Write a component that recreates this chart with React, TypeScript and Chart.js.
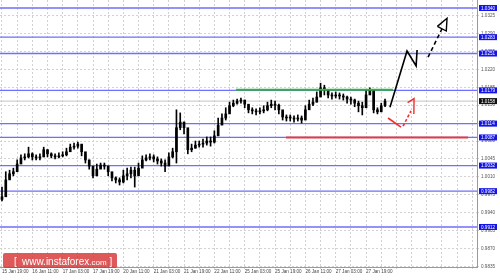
import React, { useEffect, useRef } from "react";
import { Chart, registerables } from "chart.js";
Chart.register(...registerables);

// Candle time positions (hours from the first label)
const HOURS = [0, 2, 4, 6, 8, 10, 12, 14, 16, 18, 20, 22, 24, 26, 28, 30, 32, 34, 36, 38, 40, 42, 44, 46, 48, 50, 52, 54, 56, 58, 60, 62, 64, 66, 68, 70, 72, 74, 76, 78, 80, 82, 84, 86, 88, 90, 92, 94, 96, 98, 100, 102, 104, 106, 108, 110, 112, 114, 116, 118, 120, 122, 124, 126, 128, 130, 132, 134, 136, 138, 140, 142, 144, 146, 148, 150, 152, 154, 156, 158, 160, 162, 164, 166, 168, 170, 172, 174, 176, 178, 180, 182, 184, 186, 188, 190, 192, 194, 196, 198, 200, 202];

const CLOSE = [0.9971, 1.0004, 1.0016, 1.0020, 1.0035, 1.0047, 1.0049, 1.0055, 1.0049, 1.0047, 1.0049, 1.0063, 1.0055, 1.0051, 1.0049, 1.0051, 1.0053, 1.0059, 1.0068, 1.0070, 1.0074, 1.0059, 1.0043, 1.0031, 1.0012, 1.0025, 1.0033, 1.0031, 1.0020, 1.0008, 1.0004, 1.0000, 1.0012, 1.0016, 1.0023, 1.0012, 1.0027, 1.0043, 1.0047, 1.0049, 1.0045, 1.0041, 1.0037, 1.0031, 1.0049, 1.0059, 1.0106, 1.0117, 1.0106, 1.0063, 1.0066, 1.0072, 1.0074, 1.0076, 1.0080, 1.0078, 1.0090, 1.0111, 1.0125, 1.0133, 1.0149, 1.0154, 1.0158, 1.0160, 1.0152, 1.0141, 1.0139, 1.0137, 1.0139, 1.0141, 1.0149, 1.0152, 1.0150, 1.0141, 1.0127, 1.0125, 1.0125, 1.0123, 1.0125, 1.0121, 1.0141, 1.0152, 1.0156, 1.0166, 1.0184, 1.0180, 1.0170, 1.0168, 1.0170, 1.0168, 1.0166, 1.0162, 1.0160, 1.0154, 1.0149, 1.0145, 1.0170, 1.0180, 1.0141, 1.0137, 1.0149, 1.0158];

const HIGH = [0.9990, 1.0020, 1.0023, 1.0027, 1.0043, 1.0053, 1.0055, 1.0068, 1.0057, 1.0053, 1.0055, 1.0068, 1.0063, 1.0057, 1.0055, 1.0057, 1.0059, 1.0066, 1.0074, 1.0076, 1.0078, 1.0072, 1.0053, 1.0043, 1.0023, 1.0035, 1.0037, 1.0037, 1.0031, 1.0016, 1.0010, 1.0008, 1.0023, 1.0027, 1.0029, 1.0029, 1.0037, 1.0051, 1.0053, 1.0055, 1.0053, 1.0049, 1.0045, 1.0043, 1.0057, 1.0066, 1.0141, 1.0135, 1.0117, 1.0082, 1.0074, 1.0080, 1.0080, 1.0084, 1.0088, 1.0088, 1.0100, 1.0125, 1.0133, 1.0145, 1.0156, 1.0160, 1.0162, 1.0164, 1.0160, 1.0149, 1.0145, 1.0143, 1.0145, 1.0149, 1.0156, 1.0160, 1.0158, 1.0152, 1.0137, 1.0131, 1.0131, 1.0129, 1.0131, 1.0129, 1.0149, 1.0160, 1.0164, 1.0176, 1.0193, 1.0189, 1.0178, 1.0174, 1.0176, 1.0174, 1.0172, 1.0168, 1.0166, 1.0162, 1.0158, 1.0156, 1.0180, 1.0184, 1.0176, 1.0145, 1.0154, 1.0162];

const LOW = [0.9963, 0.9984, 1.0008, 1.0012, 1.0027, 1.0041, 1.0043, 1.0047, 1.0043, 1.0043, 1.0043, 1.0049, 1.0049, 1.0047, 1.0045, 1.0047, 1.0049, 1.0051, 1.0063, 1.0064, 1.0066, 1.0051, 1.0037, 1.0025, 1.0008, 1.0012, 1.0027, 1.0025, 1.0012, 1.0002, 0.9998, 0.9994, 0.9998, 1.0004, 1.0008, 0.9990, 1.0016, 1.0035, 1.0041, 1.0043, 1.0039, 1.0035, 1.0031, 1.0020, 1.0039, 1.0047, 1.0037, 1.0102, 1.0094, 1.0055, 1.0059, 1.0066, 1.0068, 1.0068, 1.0072, 1.0070, 1.0076, 1.0094, 1.0115, 1.0121, 1.0139, 1.0147, 1.0152, 1.0154, 1.0145, 1.0135, 1.0133, 1.0131, 1.0133, 1.0135, 1.0139, 1.0145, 1.0141, 1.0133, 1.0121, 1.0119, 1.0119, 1.0117, 1.0119, 1.0115, 1.0131, 1.0145, 1.0149, 1.0156, 1.0172, 1.0170, 1.0164, 1.0162, 1.0164, 1.0162, 1.0160, 1.0154, 1.0152, 1.0147, 1.0137, 1.0131, 1.0156, 1.0172, 1.0135, 1.0133, 1.0141, 1.0147];

const FIRST_OPEN = 0.9966;

// Horizontal levels
const LEVELS = [1.0340, 1.0283, 1.0251, 1.0179, 1.0114, 1.0087, 1.0032, 0.9982, 0.9912];
const CURRENT_PRICE = 1.0158;

// Axis ticks
const Y_TICKS = [0.9835, 0.9870, 0.9905, 0.9940, 0.9975, 1.0010, 1.0045, 1.0080, 1.0115, 1.0150, 1.0185, 1.0220, 1.0255, 1.0290, 1.0325];
const X_GRID_HOURS = [0, 8, 16, 24, 32, 40, 48, 56, 64, 72, 80, 88, 96, 104, 112, 120, 128, 136, 144, 152, 160, 168, 176, 184, 192, 200, 208, 216, 224, 232, 240, 248];
const X_LABEL_HOURS = [0, 16, 32, 48, 64, 80, 96, 112, 128, 144, 160, 176, 192];
const X_LABELS = ["15 Jan 19:00", "16 Jan 11:00", "17 Jan 03:00", "17 Jan 19:00", "20 Jan 11:00", "21 Jan 03:00", "21 Jan 19:00", "22 Jan 11:00", "25 Jan 03:00", "25 Jan 19:00", "26 Jan 11:00", "27 Jan 03:00", "27 Jan 19:00"];

const X_MIN = -1.05;
const X_MAX = 250.5;
const Y_MIN = 0.98338;
const Y_MAX = 1.03556;

// Analyst annotations (hours, prices)
const GREEN_HOURS = [123.4, 206.2];
const GREEN_PRICES = [1.0180, 1.0180];
const RED_LEVEL_HOURS = [149.8, 245.8];
const RED_LEVEL_PRICES = [1.0087, 1.0087];
const BLACK_PATH_HOURS = [204.6, 213.6, 218.4, 218.9];
const BLACK_PATH_PRICES = [1.0146, 1.0256, 1.0227, 1.0258];
const BLACK_DASH_HOURS = [224.7, 232.0];
const BLACK_DASH_PRICES = [1.0244, 1.0299];
const BLACK_HEAD_HOURS = [229.6, 234.7, 234.3, 229.6];
const BLACK_HEAD_PRICES = [1.0304, 1.0320, 1.0295, 1.0304];
const RED_PATH_HOURS = [203.6, 210.4];
const RED_PATH_PRICES = [1.0125, 1.0107];
const RED_DASH_HOURS = [211.5, 215.7];
const RED_DASH_PRICES = [1.0109, 1.0139];
const RED_HEAD_HOURS = [213.9, 217.3, 217.2];
const RED_HEAD_PRICES = [1.0155, 1.0163, 1.0133];

const pts = (xs: number[], ys: number[]) => xs.map((x, i) => ({ x, y: ys[i] }));

const lineDs = (xs: number[], ys: number[], color: string, width: number, order: number, dash: number[] = []) => ({
  type: "line" as const,
  data: pts(xs, ys),
  borderColor: color,
  borderWidth: width,
  borderDash: dash,
  pointRadius: 0,
  tension: 0,
  fill: false,
  order,
});

const overlayPlugin = {
  id: "overlay",
  afterDraw(chart: any) {
    const { ctx, chartArea } = chart;
    const y = chart.scales.y;
    ctx.save();
    ctx.font = '4.6px "Liberation Sans"';
    ctx.textBaseline = "middle";
    ctx.textAlign = "left";
    const box = (v: number, bg: string) => {
      const py = y.getPixelForValue(v);
      ctx.fillStyle = bg;
      ctx.fillRect(chartArea.right + 2, py - 3, 18, 6);
      ctx.fillStyle = "#ffffff";
      ctx.fillText(v.toFixed(4), chartArea.right + 4, py + 0.3);
    };
    LEVELS.forEach((v) => box(v, "#1414e6"));
    box(CURRENT_PRICE, "#111111");

    // watermark
    ctx.fillStyle = "rgba(214, 48, 48, 0.8)";
    ctx.beginPath();
    (ctx as any).roundRect(3, 253, 114, 15, 2);
    ctx.fill();
    ctx.fillStyle = "#ffffff";
    ctx.textBaseline = "alphabetic";
    let x = 14;
    const base = 264.5;
    ctx.font = '10px "Liberation Sans"';
    ctx.fillText("[", x, base);
    x += 8;
    ctx.fillText("www.instaforex", x, base);
    x += ctx.measureText("www.instaforex").width;
    ctx.font = '8px "Liberation Sans"';
    ctx.fillText(".com", x, base);
    x += ctx.measureText(".com").width + 3;
    ctx.font = '10px "Liberation Sans"';
    ctx.fillText("]", x, base);
    ctx.restore();
  },
};

export default function App() {
  const ref = useRef<HTMLCanvasElement | null>(null);
  useEffect(() => {
    if (!ref.current) return;
    const opens = CLOSE.map((c, i) => (i === 0 ? FIRST_OPEN : CLOSE[i - 1]));
    const wicks = HOURS.map((h, i) => ({ x: h, y: [LOW[i], HIGH[i]] }));
    const bodies = HOURS.map((h, i) => ({ x: h, y: [opens[i], CLOSE[i]] }));

    const datasets: any[] = [];
    LEVELS.forEach((lv) => datasets.push(lineDs([X_MIN, X_MAX], [lv, lv], "#6e6eff", 1.3, 20)));
    datasets.push(lineDs([X_MIN, X_MAX], [CURRENT_PRICE, CURRENT_PRICE], "#c4c4c4", 1, 21));
    datasets.push({ type: "bar", data: wicks, backgroundColor: "#000", barThickness: 1, grouped: false, order: 10 });
    datasets.push({ type: "bar", data: bodies, backgroundColor: "#000", barThickness: 2, grouped: false, order: 9, minBarLength: 1 });
    datasets.push(lineDs(GREEN_HOURS, GREEN_PRICES, "#33b040", 2, 3));
    datasets.push(lineDs(RED_LEVEL_HOURS, RED_LEVEL_PRICES, "#e83a3a", 2, 3));
    datasets.push(lineDs(BLACK_PATH_HOURS, BLACK_PATH_PRICES, "#000", 1.6, 1));
    datasets.push(lineDs(BLACK_DASH_HOURS, BLACK_DASH_PRICES, "#000", 1.6, 1, [4, 3]));
    datasets.push(lineDs(BLACK_HEAD_HOURS, BLACK_HEAD_PRICES, "#000", 1.4, 1));
    datasets.push(lineDs(RED_PATH_HOURS, RED_PATH_PRICES, "#ee3030", 1.6, 1));
    datasets.push(lineDs(RED_DASH_HOURS, RED_DASH_PRICES, "#ee3030", 1.6, 1, [3, 2]));
    datasets.push(lineDs(RED_HEAD_HOURS, RED_HEAD_PRICES, "#ee3030", 1.4, 1));

    const chart = new Chart(ref.current, {
      type: "bar",
      data: { datasets },
      options: {
        animation: false,
        responsive: false,
        devicePixelRatio: 1,
        layout: { padding: 0 },
        plugins: { legend: { display: false }, tooltip: { enabled: false } },
        scales: {
          x: {
            type: "linear",
            min: X_MIN,
            max: X_MAX,
            offset: false,
            afterBuildTicks: (s: any) => {
              s.ticks = X_GRID_HOURS.map((v) => ({ value: v }));
            },
            afterFit: (s: any) => {
              s.height = 13;
              s.paddingLeft = 0;
              s.paddingRight = 0;
            },
            ticks: {
              autoSkip: false,
              maxRotation: 0,
              minRotation: 0,
              align: "start",
              padding: 0,
              color: "#444",
              font: { size: 4.6, family: "Liberation Sans" },
              callback: (v: any) => {
                const i = X_LABEL_HOURS.indexOf(Number(v));
                return i >= 0 ? X_LABELS[i] : "";
              },
            },
            grid: { color: "#d2d2d2", lineWidth: 1, tickLength: 2, offset: false },
            border: { display: true, color: "#9a9a9a", dash: [2, 2] },
          },
          y: {
            type: "linear",
            position: "right",
            min: Y_MIN,
            max: Y_MAX,
            afterBuildTicks: (s: any) => {
              s.ticks = Y_TICKS.map((v) => ({ value: v }));
            },
            afterFit: (s: any) => {
              s.width = 23;
              s.paddingTop = 0;
              s.paddingBottom = 0;
            },
            ticks: {
              autoSkip: false,
              padding: 2,
              color: "#555",
              font: { size: 4.6, family: "Liberation Sans" },
              callback: (v: any) => Number(v).toFixed(4),
            },
            grid: { color: "#d2d2d2", lineWidth: 1, tickLength: 2 },
            border: { display: true, color: "#9a9a9a", dash: [2, 2] },
          },
        },
      },
      plugins: [overlayPlugin],
    } as any);
    return () => chart.destroy();
  }, []);

  return (
    <div style={{ position: "fixed", left: 0, top: 0, width: 500, height: 280, background: "#fff" }}>
      <canvas ref={ref} width={500} height={280} style={{ width: 500, height: 280, display: "block" }} />
    </div>
  );
}
